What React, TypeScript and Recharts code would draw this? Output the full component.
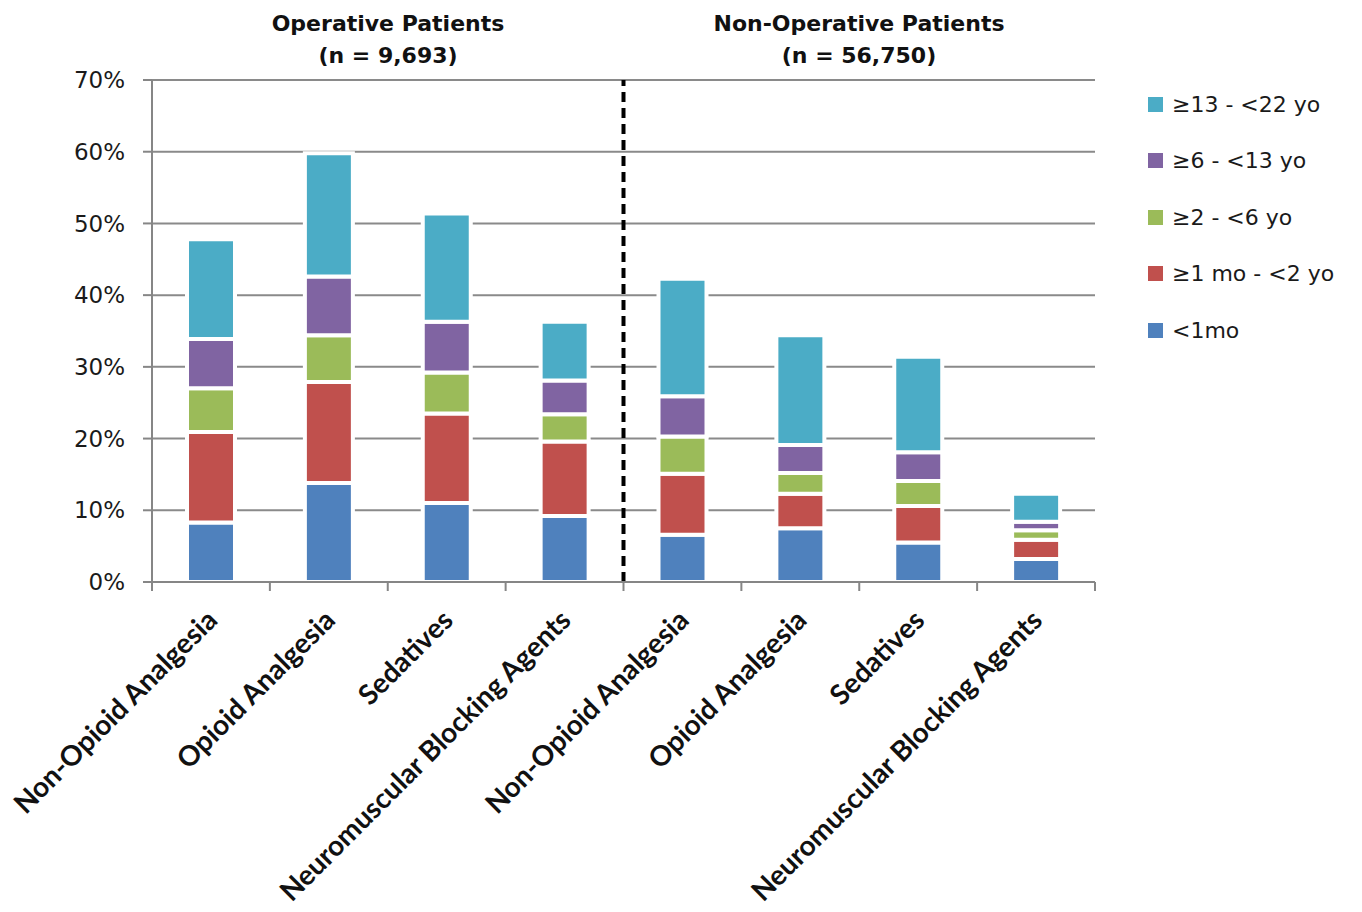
import React from 'react';
import {
  BarChart,
  Bar,
  XAxis,
  YAxis,
  CartesianGrid,
  ReferenceLine,
  Legend,
} from 'recharts';

// Drug classes, first four for operative patients, last four for non-operative
const categories = [
  'Non-Opioid Analgesia',
  'Opioid Analgesia',
  'Sedatives',
  'Neuromuscular Blocking Agents',
  'Non-Opioid Analgesia',
  'Opioid Analgesia',
  'Sedatives',
  'Neuromuscular Blocking Agents',
];

// Percent of patients receiving each drug class, split by age group
const under1mo = [8.3, 13.8, 11.0, 9.2, 6.6, 7.5, 5.5, 3.2];
const mo1to2yo = [12.6, 14.1, 12.5, 10.4, 8.5, 4.8, 5.1, 2.7];
const yo2to6 = [6.1, 6.5, 5.7, 3.8, 5.2, 2.9, 3.5, 1.3];
const yo6to13 = [6.9, 8.2, 7.1, 4.7, 5.6, 3.9, 4.0, 1.2];
const yo13to22 = [13.9, 17.2, 15.1, 8.2, 16.4, 15.3, 13.3, 3.9];

const yTicks = [0, 10, 20, 30, 40, 50, 60, 70];

const groupTitles = [
  { title: 'Operative Patients', n: '(n = 9,693)' },
  { title: 'Non-Operative Patients', n: '(n = 56,750)' },
];

const series = [
  { key: 'under1mo', name: '<1mo', color: '#4F81BD', values: under1mo },
  { key: 'mo1to2yo', name: '\u22651 mo - <2 yo', color: '#C0504D', values: mo1to2yo },
  { key: 'yo2to6', name: '\u22652 - <6 yo', color: '#9BBB59', values: yo2to6 },
  { key: 'yo6to13', name: '\u22656 - <13 yo', color: '#8064A2', values: yo6to13 },
  { key: 'yo13to22', name: '\u226513 - <22 yo', color: '#4BACC6', values: yo13to22 },
];

// Each category occupies one unit slot on the x axis; bars sit at the slot centre
const data = categories.map((name, i) => {
  const row: Record<string, string | number> = { name, slot: i + 0.5 };
  series.forEach((s) => {
    row[s.key] = s.values[i];
  });
  return row;
});

// Boundary ticks sit on whole numbers, category labels on half steps
const slotTicks = Array.from({ length: categories.length * 2 + 1 }, (_, i) => i / 2);

const AXIS = '#868686';
const W = 1362;
const H = 912;

const SlotTick = (props: any) => {
  const { x, y, payload } = props;
  const v = payload.value as number;
  if (Number.isInteger(v)) {
    return <line x1={x} y1={y} x2={x} y2={y + 9} stroke={AXIS} strokeWidth={2} />;
  }
  const label = categories[Math.floor(v)];
  return (
    <text
      x={0}
      y={0}
      transform={`translate(${x + 8},${y + 40}) rotate(-45)`}
      textAnchor="end"
      fontFamily="Lato, sans-serif"
      fontWeight={700}
      fontSize={28}
      fill="#111"
    >
      {label}
    </text>
  );
};

const LegendList = () => (
  <div style={{ fontFamily: '"DejaVu Sans", sans-serif', fontSize: 22, color: '#1a1a1a' }}>
    {[...series].reverse().map((s) => (
      <div key={s.key} style={{ display: 'flex', alignItems: 'center', height: 56.5 }}>
        <span
          style={{
            display: 'inline-block',
            width: 15,
            height: 15,
            background: s.color,
            marginLeft: 8,
            marginRight: 9,
          }}
        />
        <span style={{ whiteSpace: 'nowrap' }}>{s.name}</span>
      </div>
    ))}
  </div>
);

export default function App() {
  return (
    <div
      style={{
        position: 'absolute',
        left: 0,
        top: 0,
        width: W,
        height: H,
        background: '#fff',
        overflow: 'hidden',
      }}
    >
      {groupTitles.map((g, i) => (
        <div
          key={g.title}
          style={{
            position: 'absolute',
            top: 8,
            left: i === 0 ? 152 : 623,
            width: 472,
            textAlign: 'center',
            fontFamily: '"DejaVu Sans", sans-serif',
            fontWeight: 700,
            fontSize: 22,
            lineHeight: '32px',
            color: '#111',
          }}
        >
          <div>{g.title}</div>
          <div>{g.n}</div>
        </div>
      ))}
      <BarChart
        width={W}
        height={H}
        data={data}
        margin={{ top: 80, right: 267, bottom: 0, left: 0 }}
      >
        <CartesianGrid vertical={false} stroke="#8a8a8a" strokeWidth={2} />
        <XAxis
          dataKey="slot"
          type="number"
          domain={[0, categories.length]}
          ticks={slotTicks}
          interval={0}
          height={330}
          axisLine={{ stroke: AXIS, strokeWidth: 2 }}
          tickLine={false}
          tickSize={0}
          tickMargin={0}
          tick={<SlotTick />}
        />
        <YAxis
          width={152}
          domain={[0, 70]}
          ticks={yTicks}
          interval={0}
          tickFormatter={(v: number) => `${v}%`}
          axisLine={{ stroke: AXIS, strokeWidth: 2 }}
          tickLine={{ stroke: AXIS, strokeWidth: 2 }}
          tickSize={9}
          tickMargin={18}
          tick={{ fontFamily: '"DejaVu Sans", sans-serif', fontSize: 23, fill: '#1a1a1a' }}
        />
        {series.map((s) => (
          <Bar
            key={s.key}
            dataKey={s.key}
            name={s.name}
            stackId="age"
            fill={s.color}
            stroke="#fff"
            strokeWidth={4}
            barSize={48}
            isAnimationActive={false}
          />
        ))}
        <ReferenceLine x={4} stroke="#000" strokeWidth={4} strokeDasharray="10 6" />
        <Legend
          layout="vertical"
          align="center"
          verticalAlign="middle"
          content={<LegendList />}
          wrapperStyle={{ left: 1140, top: 76, width: 222, height: 290 }}
        />
      </BarChart>
    </div>
  );
}
